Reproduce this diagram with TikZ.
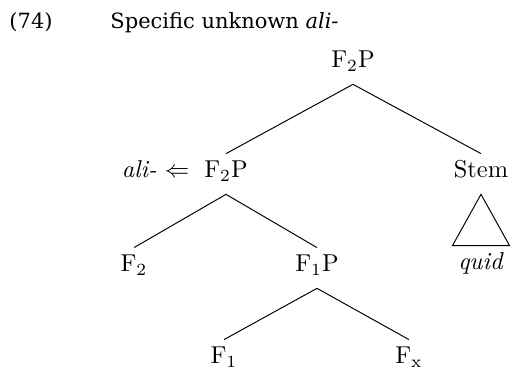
\documentclass[tikz,border=0pt]{standalone}
\usepackage{fontspec}
\newfontfamily\headfont{DejaVu Serif}
\begin{document}
\begin{tikzpicture}[x=0.41pt,y=-0.41pt,
  tn/.style={inner xsep=0pt,inner ysep=3pt,text height=6.8pt,text depth=3.5pt,anchor=base},
  head/.style={inner sep=0pt,anchor=base west,font=\headfont\fontsize{8.6}{10}\selectfont},
  edge/.style={draw=black,line width=0.4pt}]
\useasboundingbox (0,0) rectangle (511,371);
% heading
\node[head] (num) at (9,28.5) {(74)};
\node[head] (title) at (110,28.5) {Specific unknown \textit{ali-}};
% tree nodes
\node[tn] (root) at (353,68) {F$_2$P};
\node[tn] (lf) at (226,178) {F$_2$P};
\node[inner sep=0pt,anchor=base east] (ali) at ([xshift=-5.7pt]lf.base west) {\textit{ali-}~$\Leftarrow$};
\node[tn] (stem) at (481,178) {Stem};
\node[tn,minimum width=23pt] (quid) at (481,270) {\textit{quid}};
\node[tn] (f2) at (134,272) {F$_2$};
\node[tn] (f1p) at (317,272) {F$_1$P};
\node[tn] (f1) at (224,364) {F$_1$};
\node[tn] (fx) at (409,364) {F$_\mathrm{x}$};
% connectors
\draw[edge] (root.south) -- (lf.north);
\draw[edge] (root.south) -- (stem.north);
\draw[edge] (lf.south) -- (f2.north);
\draw[edge] (lf.south) -- (f1p.north);
\draw[edge] (f1p.south) -- (f1.north);
\draw[edge] (f1p.south) -- (fx.north);
\draw[edge] (stem.south) -- (quid.north west) -- (quid.north east) -- cycle;
\end{tikzpicture}
\end{document}
